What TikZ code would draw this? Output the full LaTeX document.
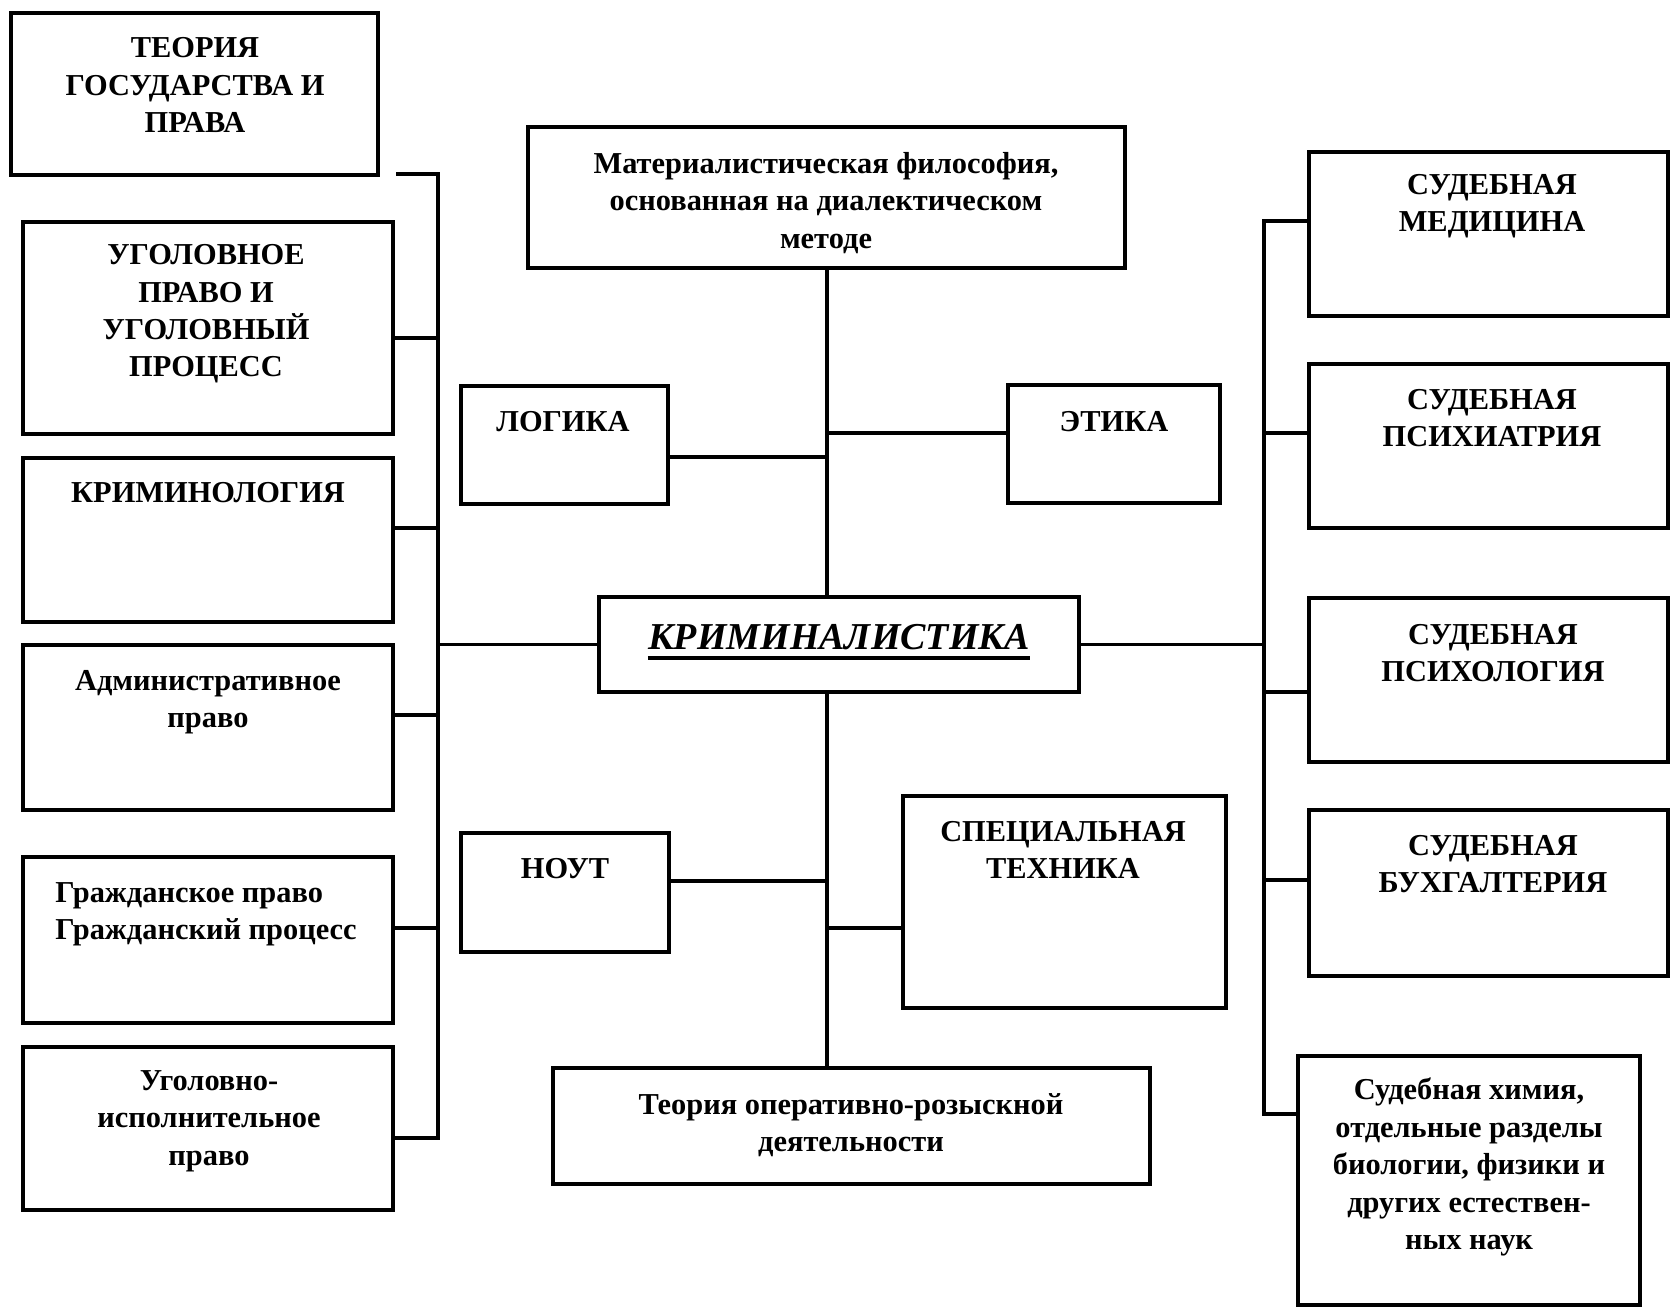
\documentclass[tikz,border=0pt]{standalone}
\usepackage{fontspec}
\setmainfont{Liberation Serif}
\usetikzlibrary{fit}
\begin{document}
\begin{tikzpicture}[x=0.5pt,y=-0.5pt,
  box/.style={draw, line width=2.2pt, inner sep=0pt, outer sep=0pt},
  conn/.style={line width=1.8pt},
  txt/.style={font=\fontsize{15.2}{18.7}\selectfont\bfseries, align=center, inner sep=0pt},
  txtl/.style={font=\fontsize{15.2}{18.7}\selectfont\bfseries, align=left, inner sep=0pt}]
\fill[white] (0,0) rectangle (1672,1310);
\useasboundingbox (0,0) rectangle (1672,1310);

% boxes
\node[box, fit={(11,13) (378,175)}] (tgp) {};
\node[box, fit={(23,222) (393,434)}] (ugp) {};
\node[box, fit={(23,458) (393,622)}] (krimin) {};
\node[box, fit={(23,645) (393,810)}] (adm) {};
\node[box, fit={(23,857) (393,1023)}] (grazh) {};
\node[box, fit={(23,1047) (393,1210)}] (uip) {};
\node[box, fit={(528,127) (1125,268)}] (mat) {};
\node[box, fit={(461,386) (668,504)}] (log) {};
\node[box, fit={(1008,385) (1220,503)}] (eth) {};
\node[box, fit={(599,597) (1079,692)}] (kr) {};
\node[box, fit={(461,833) (669,952)}] (nout) {};
\node[box, fit={(903,796) (1226,1008)}] (spec) {};
\node[box, fit={(553,1068) (1150,1184)}] (orda) {};
\node[box, fit={(1309,152) (1668,316)}] (med) {};
\node[box, fit={(1309,364) (1668,528)}] (psiat) {};
\node[box, fit={(1309,598) (1668,762)}] (psol) {};
\node[box, fit={(1309,810) (1668,976)}] (buh) {};
\node[box, fit={(1298,1056) (1640,1305)}] (him) {};

% texts
\node[txt] (tgpt) at (195,85) {ТЕОРИЯ\\ГОСУДАРСТВА И\\ПРАВА};
\node[txt] (ugpt) at (206,314) {УГОЛОВНОЕ\\ПРАВО И\\УГОЛОВНЫЙ\\ПРОЦЕСС};
\node[txt] (krimint) at (208,493) {КРИМИНОЛОГИЯ};
\node[txt] (admt) at (208,702) {Административное\\право};
\node[txtl, anchor=west] (grazht) at (55,914) {Гражданское право\\Гражданский процесс};
\node[txt] (uipt) at (209,1121) {Уголовно-\\исполнительное\\право};
\node[txt] (matt) at (826,203) {Материалистическая философия,\\основанная на диалектическом\\методе};
\node[txt] (logt) at (563,422) {ЛОГИКА};
\node[txt] (etht) at (1114,422) {ЭТИКА};
\node[font=\fontsize{19}{22}\selectfont\bfseries\itshape, inner sep=0pt, anchor=base] (krt) at (839,650) {КРИМИНАЛИСТИКА};
\draw[line width=1.6pt] ([yshift=-4pt]krt.base west) -- ([yshift=-4pt]krt.base east);
\node[txt] (noutt) at (565,869) {НОУТ};
\node[txt] (spect) at (1063,850) {СПЕЦИАЛЬНАЯ\\ТЕХНИКА};
\node[txt] (ordat) at (851,1125) {Теория оперативно-розыскной\\деятельности};
\node[txt] (medt) at (1492,206) {СУДЕБНАЯ\\МЕДИЦИНА};
\node[txt] (psiatt) at (1492,418) {СУДЕБНАЯ\\ПСИХИАТРИЯ};
\node[txt] (psolt) at (1493,653) {СУДЕБНАЯ\\ПСИХОЛОГИЯ};
\node[txt] (buht) at (1493,864) {СУДЕБНАЯ\\БУХГАЛТЕРИЯ};
\node[txt] (himt) at (1469,1167) {Судебная химия,\\отдельные разделы\\биологии, физики и\\других естествен-\\ных наук};

% left bus
\coordinate (lfree) at (396,174);
\coordinate (lbT) at (438,174);
\coordinate (lbB) at (438,1138);
\draw[conn] (lfree) -- (lbT) -- (lbB) -- (uip.east |- lbB);
\draw[conn] (ugp.east |- 0,338) -- (lbT |- 0,338);
\draw[conn] (krimin.east |- 0,528) -- (lbT |- 0,528);
\draw[conn] (adm.east |- 0,715) -- (lbT |- 0,715);
\draw[conn] (grazh.east |- 0,928) -- (lbT |- 0,928);
\draw[conn] (kr.west) -- (kr.west -| lbT);

% central spine
\coordinate (sp) at (827,0);
\draw[conn] (mat.south -| sp) -- (kr.north -| sp);
\draw[conn] (kr.south -| sp) -- (orda.north -| sp);
\draw[conn] (log.east |- 0,457) -- (sp |- 0,457);
\draw[conn] (eth.west |- 0,433) -- (sp |- 0,433);
\draw[conn] (nout.east |- 0,881) -- (sp |- 0,881);
\draw[conn] (spec.west |- 0,928) -- (sp |- 0,928);

% right bus
\coordinate (rbT) at (1264,221);
\coordinate (rbB) at (1264,1114);
\draw[conn] (med.west |- rbT) -- (rbT) -- (rbB) -- (him.west |- rbB);
\draw[conn] (psiat.west |- 0,433) -- (rbT |- 0,433);
\draw[conn] (psol.west |- 0,692) -- (rbT |- 0,692);
\draw[conn] (buh.west |- 0,880) -- (rbT |- 0,880);
\draw[conn] (kr.east) -- (kr.east -| rbT);
\end{tikzpicture}
\end{document}
